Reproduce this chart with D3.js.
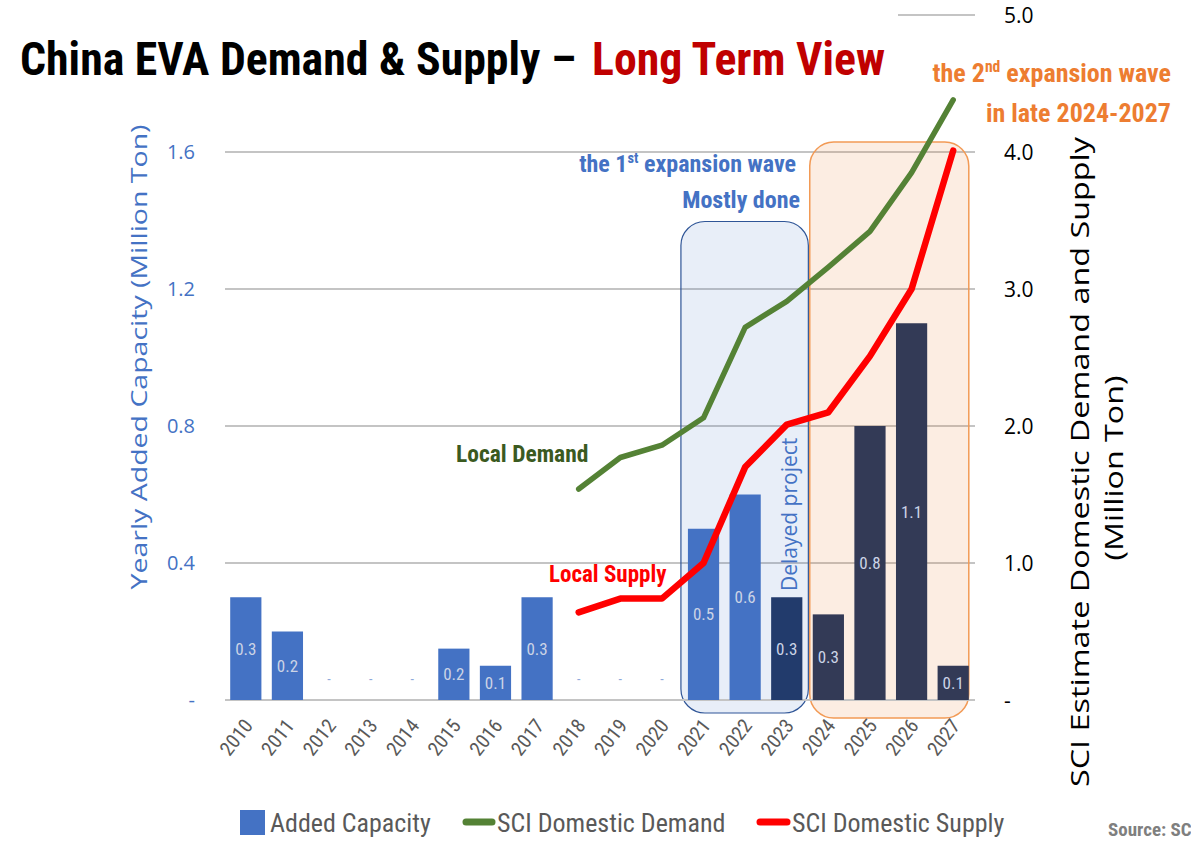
<!DOCTYPE html>
<html><head><meta charset="utf-8">
<script src="https://cdn.jsdelivr.net/npm/d3@7"></script>
<style>body{margin:0;background:#fff} svg{display:block}</style>
</head><body><svg id="c" width="1191" height="841"></svg>
<script>
const years = ["2010","2011","2012","2013","2014","2015","2016","2017","2018","2019","2020","2021","2022","2023","2024","2025","2026","2027"];
const capacity = [0.3,0.2,0,0,0,0.15,0.1,0.3,0,0,0,0.5,0.6,0.3,0.25,0.8,1.1,0.1];
const capacityLabels = ["0.3","0.2","-","-","-","0.2","0.1","0.3","-","-","-","0.5","0.6","0.3","0.3","0.8","1.1","0.1"];
const capacityStatus = ["built","built","built","built","built","built","built","built","built","built","built","built","built","delayed","planned","planned","planned","planned"];
const lineYears = ["2018","2019","2020","2021","2022","2023","2024","2025","2026","2027"];
const demand = [1.54,1.77,1.86,2.06,2.72,2.91,3.16,3.42,3.85,4.38];
const supply = [0.64,0.74,0.74,1.0,1.70,2.01,2.10,2.51,3.0,4.01];
const leftTicks = [0,0.4,0.8,1.2,1.6];
const leftTickLabels = ["-","0.4","0.8","1.2","1.6"];
const rightTicks = [0,1,2,3,4,5];
const rightTickLabels = ["-","1.0","2.0","3.0","4.0","5.0"];

const NARROW = "'Liberation Sans Narrow','Roboto Condensed','Open Sans Condensed','Arial Narrow',sans-serif";
const SANS = "'Open Sans','Noto Sans',sans-serif";
const statusColor = {built:"#4472C4", delayed:"#223B6C", planned:"#333A56"};

const svg = d3.select("#c");
const x = d3.scaleBand().domain(years).range([225, 974]).paddingInner(0.25).paddingOuter(0.125);
const yL = d3.scaleLinear().domain([0, 2]).range([700, 15]);
const yR = d3.scaleLinear().domain([0, 5]).range([700, 15]);
const bw = x.bandwidth();
const cx = d => x(d) + bw / 2;

// gridlines
svg.append("g").selectAll("line").data(rightTicks.slice(1)).join("line")
  .attr("x1", 225).attr("x2", 975).attr("y1", d => yR(d)).attr("y2", d => yR(d))
  .attr("stroke", "#c4c4c4").attr("stroke-width", 2);

// highlight boxes
svg.append("rect")
  .attr("x", x("2021") - 7).attr("y", yR(3.5) + 1)
  .attr("width", x("2023") + bw + 6 - (x("2021") - 7)).attr("height", 713 - yR(3.5) - 1)
  .attr("rx", 24).attr("fill", "rgba(68,114,196,0.12)").attr("stroke", "#2F5597").attr("stroke-width", 1.2);
svg.append("rect")
  .attr("x", x("2024") - 3).attr("y", yR(4) - 10)
  .attr("width", x("2027") + bw - (x("2024") - 3)).attr("height", 718 - yR(4) + 10)
  .attr("rx", 24).attr("fill", "rgba(237,125,49,0.14)").attr("stroke", "#F29A55").attr("stroke-width", 1.5);

// baseline
svg.append("line").attr("x1", 225).attr("x2", 975).attr("y1", yL(0)).attr("y2", yL(0))
  .attr("stroke", "#c4c4c4").attr("stroke-width", 2);

// bars
const barData = years.map((y, i) => ({year: y, v: capacity[i], label: capacityLabels[i], status: capacityStatus[i]}));
svg.append("g").selectAll("rect").data(barData.filter(d => d.v > 0)).join("rect")
  .attr("x", d => x(d.year)).attr("width", bw)
  .attr("y", d => yL(d.v)).attr("height", d => yL(0) - yL(d.v))
  .attr("fill", d => statusColor[d.status]);
svg.append("g").selectAll("text").data(barData).join("text")
  .attr("x", d => cx(d.year))
  .attr("y", d => d.v > 0 ? (yL(d.v) + yL(0)) / 2 + 6 : yL(0) - 16)
  .attr("text-anchor", "middle")
  .attr("font-family", NARROW).attr("font-size", d => d.v > 0 ? 17 : 14)
  .attr("fill", d => d.v > 0 ? "#ccd4e6" : "#8EA9DB")
  .text(d => d.label);

// lines
const line = d3.line().x(d => cx(d.year)).y(d => yR(d.v));
svg.append("path").datum(lineYears.map((y, i) => ({year: y, v: demand[i]})))
  .attr("d", line).attr("fill", "none").attr("stroke", "#548235").attr("stroke-width", 5.5)
  .attr("stroke-linejoin", "round").attr("stroke-linecap", "round");
svg.append("path").datum(lineYears.map((y, i) => ({year: y, v: supply[i]})))
  .attr("d", line).attr("fill", "none").attr("stroke", "#FF0000").attr("stroke-width", 6.5)
  .attr("stroke-linejoin", "round").attr("stroke-linecap", "round");

// title background + title
svg.append("rect").attr("x", 0).attr("y", 0).attr("width", 898).attr("height", 95).attr("fill", "#fff");
svg.append("text").attr("x", 20).attr("y", 75)
  .attr("font-family", NARROW).attr("font-weight", "bold").attr("font-size", 46).attr("fill", "#000")
  .attr("textLength", 556).attr("lengthAdjust", "spacingAndGlyphs")
  .text("China EVA Demand & Supply –");
svg.append("text").attr("x", 592).attr("y", 75)
  .attr("font-family", NARROW).attr("font-weight", "bold").attr("font-size", 46).attr("fill", "#C00000")
  .attr("textLength", 293).attr("lengthAdjust", "spacingAndGlyphs")
  .text("Long Term View");

// left axis
svg.append("g").selectAll("text").data(leftTicks).join("text")
  .attr("x", 195).attr("y", d => yL(d) + 7).attr("text-anchor", "end")
  .attr("font-family", SANS).attr("font-size", 20).attr("fill", "#4472C4")
  .text((d, i) => leftTickLabels[i]);
svg.append("text").attr("transform", "translate(147,357) rotate(-90)")
  .attr("text-anchor", "middle").attr("font-family", SANS).attr("font-size", 21).attr("fill", "#4472C4")
  .attr("textLength", 465).attr("lengthAdjust", "spacingAndGlyphs")
  .text("Yearly Added Capacity (Million Ton)");

// right axis
svg.append("g").selectAll("text").data(rightTicks).join("text")
  .attr("x", 1004).attr("y", d => yR(d) + 8).attr("text-anchor", "start")
  .attr("font-family", SANS).attr("font-size", 21).attr("fill", "#000")
  .text((d, i) => rightTickLabels[i]);
svg.append("text").attr("transform", "translate(1089,462) rotate(-90)")
  .attr("text-anchor", "middle").attr("font-family", SANS).attr("font-size", 25).attr("fill", "#000")
  .attr("textLength", 650).attr("lengthAdjust", "spacingAndGlyphs")
  .text("SCI Estimate Domestic Demand and Supply");
svg.append("text").attr("transform", "translate(1123,468) rotate(-90)")
  .attr("text-anchor", "middle").attr("font-family", SANS).attr("font-size", 26).attr("fill", "#000")
  .attr("textLength", 185).attr("lengthAdjust", "spacingAndGlyphs")
  .text("(Million Ton)");

// x labels
svg.append("g").selectAll("text").data(years).join("text")
  .attr("transform", d => `translate(${cx(d) + 8},726) rotate(-52)`)
  .attr("text-anchor", "end").attr("font-family", NARROW).attr("font-size", 20).attr("fill", "#595959")
  .text(d => d);

// annotations
function twoPart(xp, yp, a, sup, b, color, size) {
  const t = svg.append("text").attr("x", xp).attr("y", yp).attr("text-anchor", "end")
    .attr("font-family", NARROW).attr("font-weight", "bold").attr("font-size", size).attr("fill", color);
  t.append("tspan").text(a);
  t.append("tspan").attr("font-size", size * 0.6).attr("dy", -size * 0.38).text(sup);
  t.append("tspan").attr("dy", size * 0.38).text(b);
}
twoPart(796, 172, "the 1", "st", " expansion wave", "#4472C4", 24);
svg.append("text").attr("x", 800).attr("y", 208).attr("text-anchor", "end")
  .attr("font-family", NARROW).attr("font-weight", "bold").attr("font-size", 24).attr("fill", "#4472C4")
  .text("Mostly done");
twoPart(1171, 82, "the 2", "nd", " expansion wave", "#ED7D31", 26);
svg.append("text").attr("x", 1171).attr("y", 122).attr("text-anchor", "end")
  .attr("font-family", NARROW).attr("font-weight", "bold").attr("font-size", 26).attr("fill", "#ED7D31")
  .text("in late 2024-2027");
svg.append("text").attr("x", 456).attr("y", 462)
  .attr("font-family", NARROW).attr("font-weight", "bold").attr("font-size", 23.5).attr("fill", "#3B5A1F")
  .text("Local Demand");
svg.append("text").attr("x", 549).attr("y", 582)
  .attr("font-family", NARROW).attr("font-weight", "bold").attr("font-size", 23).attr("fill", "#FF0000")
  .text("Local Supply");
svg.append("text").attr("transform", `translate(${cx("2023") + 10},591) rotate(-90)`)
  .attr("font-family", SANS).attr("font-size", 21).attr("fill", "#4472C4")
  .text("Delayed project");

// legend
const lg = svg.append("g").attr("font-family", NARROW).attr("font-size", 26).attr("fill", "#595959");
lg.append("rect").attr("x", 240).attr("y", 810).attr("width", 25).attr("height", 25).attr("fill", "#4472C4");
lg.append("text").attr("x", 270).attr("y", 832).text("Added Capacity");
lg.append("line").attr("x1", 466).attr("x2", 492).attr("y1", 822).attr("y2", 822)
  .attr("stroke", "#548235").attr("stroke-width", 7).attr("stroke-linecap", "round");
lg.append("text").attr("x", 497).attr("y", 832).text("SCI Domestic Demand");
lg.append("line").attr("x1", 760).attr("x2", 787).attr("y1", 822).attr("y2", 822)
  .attr("stroke", "#FF0000").attr("stroke-width", 7).attr("stroke-linecap", "round");
lg.append("text").attr("x", 792).attr("y", 832).text("SCI Domestic Supply");

svg.append("text").attr("x", 1108).attr("y", 836)
  .attr("font-family", NARROW).attr("font-weight", "bold").attr("font-size", 19).attr("fill", "#7F7F7F")
  .text("Source: SCI");
</script></body></html>
